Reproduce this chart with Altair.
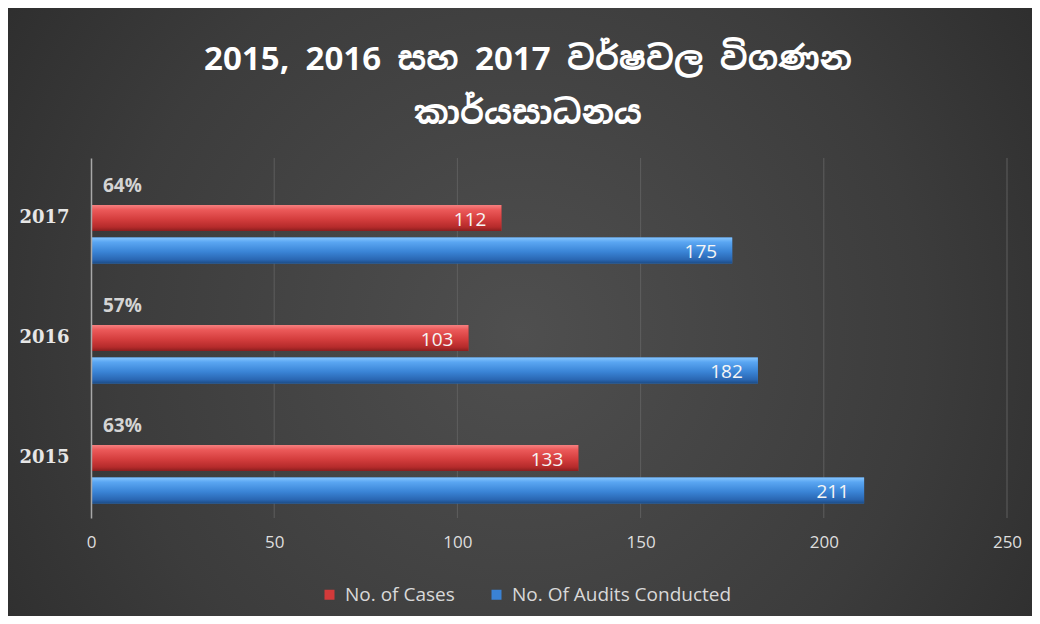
import altair as alt
import pandas as pd

# ---- data ----
years = ["2015", "2016", "2017"]
cases = [133, 103, 112]
audits = [211, 182, 175]
pct_labels = ["63%", "57%", "64%"]
series_names = ["No. of Cases", "No. Of Audits Conducted"]
title_lines = ["2015, 2016 සහ 2017 වර්ෂවල විගණන", "කාර්යසාධනය"]
year_order = ["2017", "2016", "2015"]
tick_values = [0, 50, 100, 150, 200, 250]

rows = []
for y, c, a in zip(years, cases, audits):
    rows.append({"year": y, "series": series_names[0], "value": c})
    rows.append({"year": y, "series": series_names[1], "value": a})
df = pd.DataFrame(rows)
pct_df = pd.DataFrame({"year": years, "series": ["_pct"] * 3, "label": pct_labels, "zero": [0, 0, 0]})
grid_df = pd.DataFrame({"value": tick_values[1:]})
bg_df = pd.DataFrame({"k": [1]})

W, H = 916, 360
PAD = {"left": 83, "top": 150, "right": 25, "bottom": 98}

red_grad = alt.Gradient(
    gradient="linear", x1=0, x2=0, y1=0, y2=1,
    stops=[
        alt.GradientStop(offset=0, color="#f58080"),
        alt.GradientStop(offset=0.18, color="#ec5a5a"),
        alt.GradientStop(offset=0.55, color="#d43d3d"),
        alt.GradientStop(offset=0.85, color="#b52b2b"),
        alt.GradientStop(offset=1, color="#8a1e1e"),
    ],
)
blue_grad = alt.Gradient(
    gradient="linear", x1=0, x2=0, y1=0, y2=1,
    stops=[
        alt.GradientStop(offset=0, color="#86c6ff"),
        alt.GradientStop(offset=0.18, color="#5aa6f2"),
        alt.GradientStop(offset=0.55, color="#3a84d6"),
        alt.GradientStop(offset=0.85, color="#2a67b3"),
        alt.GradientStop(offset=1, color="#1c4c86"),
    ],
)
bg_grad = alt.Gradient(
    gradient="radial", x1=0.5, y1=0.52, r1=0, x2=0.5, y2=0.52, r2=0.72,
    stops=[
        alt.GradientStop(offset=0, color="#4f4f4f"),
        alt.GradientStop(offset=0.55, color="#3c3c3c"),
        alt.GradientStop(offset=1, color="#262626"),
    ],
)

background = alt.Chart(bg_df).mark_rect(fill=bg_grad).encode(
    x=alt.value(-PAD["left"]),
    x2=alt.value(W + PAD["right"]),
    y=alt.value(-PAD["top"]),
    y2=alt.value(H + PAD["bottom"]),
)

x_scale = alt.Scale(domain=[0, 250], nice=False, zero=True)

y_enc = alt.Y(
    "year:N",
    sort=year_order,
    scale=alt.Scale(paddingInner=0, paddingOuter=0),
    axis=alt.Axis(
        title=None, ticks=False, domain=True, domainColor="#a8a8a8", domainWidth=1.5,
        labelFont="DejaVu Serif", labelFontWeight="bold", labelFontSize=18,
        labelColor="#e6e6e6", labelPadding=22, grid=False, zindex=1,
    ),
)
yoff_enc = alt.YOffset(
    "series:N",
    scale=alt.Scale(domain=["_pct"] + series_names, paddingInner=0.2, paddingOuter=0.45),
)
x_enc = alt.X(
    "value:Q",
    scale=x_scale,
    axis=alt.Axis(
        title=None, values=tick_values, ticks=False, domain=False, grid=False,
        labelFont="Open Sans", labelFontSize=17, labelColor="#dedede", labelPadding=16,
        labelFlush=False, zindex=1,
    ),
)

grid = alt.Chart(grid_df).mark_rule(color="#5e5e5e", strokeWidth=1).encode(
    x=alt.X("value:Q", scale=x_scale)
)

base = alt.Chart(df).encode(y=y_enc, yOffset=yoff_enc, x=x_enc)

bars = base.mark_bar().encode(
    color=alt.Color(
        "series:N",
        scale=alt.Scale(domain=series_names, range=["#d23a3a", "#3a82d4"]),
        legend=alt.Legend(
            title=None, orient="none", direction="horizontal",
            legendX=229, legendY=427,
            symbolType="square", symbolSize=100, symbolStrokeWidth=0,
            labelFont="Open Sans", labelFontSize=19, labelColor="#d9d9d9",
            labelLimit=400, columnPadding=32, labelOffset=6, zindex=1,
        ),
    )
)
red_bars = base.mark_bar(fill=red_grad).transform_filter(
    alt.datum.series == series_names[0]
)
blue_bars = base.mark_bar(fill=blue_grad).transform_filter(
    alt.datum.series == series_names[1]
)
value_text = base.mark_text(
    align="right", baseline="middle", dx=-15, dy=2,
    font="Open Sans", fontSize=19, color="#f5f5f5",
).encode(text="value:Q")

pct_text = alt.Chart(pct_df).mark_text(
    align="left", baseline="middle", dx=12, dy=0,
    font="Open Sans", fontWeight="bold", fontSize=19, color="#d4d4d4",
).encode(
    y=alt.Y("year:N", sort=year_order),
    yOffset=alt.YOffset("series:N"),
    x=alt.X("zero:Q", scale=x_scale),
    text="label:N",
)

title_df = pd.DataFrame({"t": ["\n".join(title_lines)]})
title_text = alt.Chart(title_df).mark_text(
    align="center", baseline="middle", lineBreak="\n", lineHeight=54,
    font="Noto Sans Sinhala, Noto Sans, sans-serif",
    fontSize=33, fontWeight="bold", color="#ffffff",
).encode(
    x=alt.value(437),
    y=alt.value(-98),
    text="t:N",
)

chart = (
    alt.layer(background, grid, bars, red_bars, blue_bars, value_text, pct_text, title_text)
    .properties(
        width=W,
        height=H,
        padding=PAD,
        autosize=alt.AutoSizeParams(type="none"),
        background="#333333",
    )
    .configure_view(stroke=None)
)

chart.save("out.html", embed_options={"renderer": "svg", "actions": False})
